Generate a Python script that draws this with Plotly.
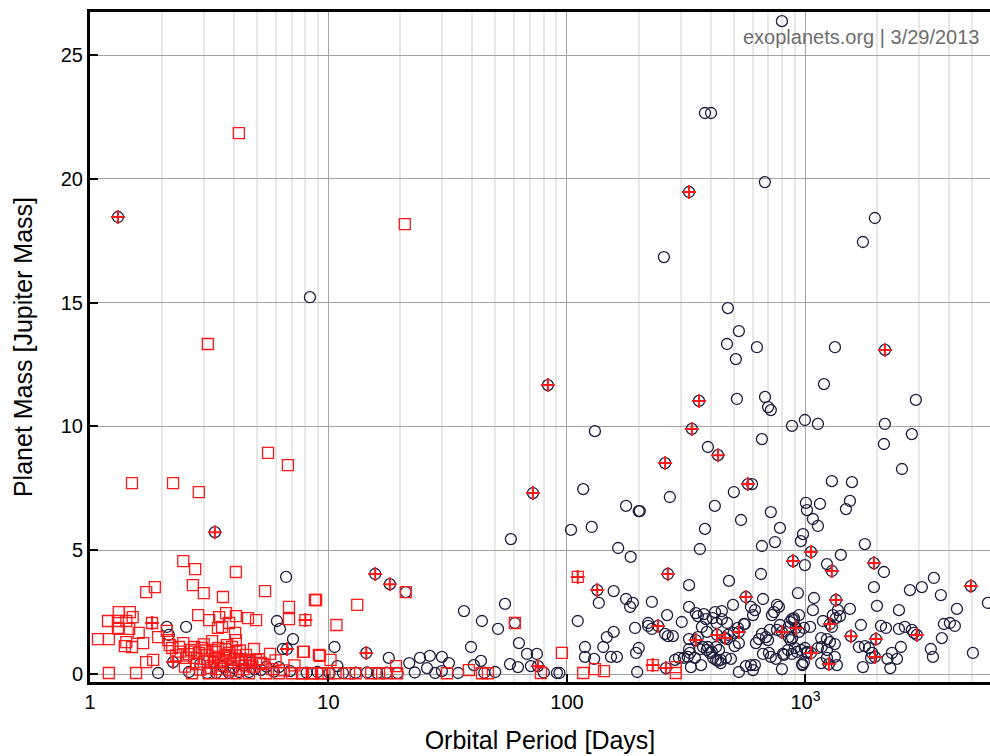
import numpy as np
import plotly.graph_objects as go

# radial-velocity planets (open black circles)
circ_period = [797, 379, 402, 676, 1955, 1742, 8.36, 255, 473, 526, 469, 626, 511, 1330,
               1196, 2905, 516, 677, 697, 716, 878, 995, 1128, 2153, 2794, 2134, 657, 390,
               2540, 597, 270, 1291, 1567, 202, 417, 501, 537, 716, 1005, 1151, 1015, 1537,
               1479, 1075, 1128, 379, 782, 977, 957, 745, 657, 1775, 361, 131, 117, 177, 200,
               104, 127, 164, 58.2,
               185, 136, 157, 177, 189, 184, 227, 325, 478, 651, 995, 930, 664, 325, 591, 603,
               614, 760, 774, 738, 724, 111, 193, 219, 263, 303, 347, 354, 375, 383, 418, 446,
               408, 424, 446, 469, 497, 552, 368, 386, 354, 325, 325, 328, 361, 372, 390, 398,
               344, 365, 331, 284, 295, 309, 321, 265, 278, 258, 219, 227, 200, 195, 157, 147,
               142, 153, 162, 119, 119, 130, 93, 197, 464, 487, 430, 441, 526, 563, 591, 614,
               603, 664, 703, 716, 752, 805, 813, 797, 845, 878, 903, 921, 850, 866, 940, 986,
               878, 895, 940, 970, 986, 1015, 620, 639, 657, 683, 697, 709, 760, 782, 861, 521,
               557, 473, 500, 505, 526, 422, 434, 405, 386, 410, 422, 441, 469,
               1231, 1408, 2134, 3456, 3078, 2742, 3698, 5826, 4318, 2467, 1995, 1938, 1086,
               1075, 1537, 1303, 1343, 1396, 1368, 1184, 1291, 895, 1046, 850, 880, 1709, 2074,
               2176, 1676, 1776, 1846, 1903, 1886, 2467, 2613, 2794, 2850, 2514, 2305, 2421,
               2210, 2270, 1742, 3808, 4036, 4234, 3733, 3357, 3425, 5040, 1128, 1355, 1328,
               1231, 1164, 1231, 1267, 1328, 1170, 1231, 957, 995, 1015, 970, 1164,
               10.6, 17.9, 10.9, 21.8, 24.2, 26.6, 29.9, 32.0, 25.9, 28.0, 29.9, 37.0, 44.0,
               51.4, 55.0, 60.5, 39.6, 62.9, 68.0, 74.8, 43.6, 40.7, 57.7, 62.3, 70.6, 90.8,
               21.1,
               6.64, 2.10, 2.53, 2.14, 1.93, 2.60, 3.10, 3.38, 3.83, 4.22, 4.64, 5.21, 6.20,
               6.08, 6.26, 7.10, 6.44,
               10.1, 11.5, 13.0, 14.5, 16.0, 17.5, 19.5, 23.0, 35.0, 45.0, 50.0, 80.0,
               3.6, 4.0, 4.4, 4.9, 5.5, 2.9, 3.3, 4.7, 5.9, 6.9, 8.1, 9.0]
circ_mass = [26.37, 22.66, 22.66, 19.87, 18.42, 17.45, 15.22, 16.84, 14.78, 13.85, 13.33, 13.2,
             12.72, 13.2, 11.71, 11.07, 11.11, 11.19, 10.78, 10.66, 10.02, 10.26, 10.1, 10.1,
             9.69, 9.29, 9.49, 9.17, 8.28, 7.67, 7.15, 7.79, 7.75, 6.58, 6.79, 7.35, 6.22,
             6.54, 6.91, 6.87, 6.62, 6.99, 6.66, 6.26, 5.98, 5.86, 5.9, 5.65, 5.37, 5.33,
             5.17, 5.25, 5.05, 9.81, 7.47, 6.79, 6.58, 5.82, 5.94, 5.09, 5.45,
             4.73, 2.87, 3.35, 3.03, 2.87, 2.71, 2.91, 3.59, 3.76, 4.04, 4.40, 3.27, 3.03,
             2.71, 2.71, 2.38, 2.58, 2.79, 2.71, 2.5, 2.38, 2.14, 1.86, 2.06, 2.38, 2.1, 2.46,
             2.34, 2.42, 2.22, 2.5, 2.54, 2.26, 2.06, 2.22, 2.06, 2.79, 2.02, 1.9, 1.7, 1.49,
             1.41, 1.0, 0.85, 1.0, 1.09, 1.09, 0.85, 0.65, 0.36, 0.28, 0.57, 0.65, 0.65, 0.69,
             1.53, 1.53, 1.62, 1.94, 1.82, 1.05, 0.85, 1.70, 1.49, 1.09, 0.69, 0.69, 1.09,
             0.69, 0.61, 0.04, 0.08, 0.65, 0.61, 0.53, 0.57, 0.08, 0.32, 0.36, 0.36, 0.16,
             0.81, 0.85, 0.69, 0.61, 0.81, 0.77, 0.2, 0.97, 0.81, 1.05, 0.89, 1.49, 1.37, 1.7,
             1.86, 2.22, 2.26, 2.38, 0.4, 0.48, 0.85, 1.25, 1.41, 1.62, 1.49, 1.37, 1.78,
             1.78, 1.98, 2.1, 1.86, 2.02, 1.58, 1.66, 1.13, 1.25, 1.09, 0.97, 0.89, 0.97,
             0.65, 0.57, 0.44, 1.41,
             4.44, 4.81, 4.12, 3.88, 3.51, 3.39, 3.19, 2.87, 2.63, 2.58, 2.75, 3.51, 3.07,
             2.58, 2.63, 2.38, 2.26, 2.34, 2.58, 2.14, 1.9, 2.18, 1.9, 1.9, 1.45, 1.98, 1.94,
             1.86, 1.09, 1.13, 1.05, 0.85, 0.65, 1.82, 1.9, 1.78, 1.66, 1.09, 0.85, 0.61,
             0.61, 0.24, 0.28, 2.02, 2.06, 1.94, 1.45, 1.01, 0.69, 0.85, 1.05, 0.36, 0.69,
             0.65, 1.45, 1.41, 1.29, 1.21, 1.09, 0.97, 0.97, 1.05, 0.89, 0.36, 0.44,
             1.09, 0.65, 0.32, 0.44, 0.65, 0.73, 0.69, 0.44, 0.24, 0.04, 0.12, 2.54, 2.14,
             1.82, 2.83, 2.06, 1.09, 1.25, 0.81, 0.81, 0.53, 0.36, 0.4, 0.28, 0.32, 0.04,
             3.31,
             3.92, 1.9, 1.9, 1.58, 0.04, 0.08, 0.04, 0.04, 0.04, 0.08, 0.08, 0.16, 0.28,
             2.14, 1.82, 1.41, 1.01,
             0.04, 0.04, 0.05, 0.06, 0.04, 0.05, 0.04, 0.06, 0.04, 0.05, 0.08, 0.06,
             0.3, 0.25, 0.35, 0.2, 0.3, 0.4, 0.5, 0.45, 0.1, 0.12, 0.05, 0.08]

# transiting planets (open red squares)
sq_period = [4.21, 20.9, 3.12, 1.50, 2.23, 2.86, 5.58, 6.76,
             2.46, 2.76, 4.09, 1.87, 1.72, 2.70, 3.0, 3.61, 5.42, 8.78, 6.83, 6.83,
             1.32, 1.47, 1.19, 1.31, 1.42, 1.51, 1.31, 1.32, 1.46, 1.60, 1.08, 1.20, 1.42,
             1.40, 1.50, 1.67, 1.93, 2.10, 2.13, 2.16, 1.72, 1.84, 1.20, 1.56,
             2.84, 3.16, 3.48, 3.72, 4.09, 3.83, 3.58, 3.44, 4.6, 4.97,
             4.06, 4.09, 3.94, 3.75, 3.25, 2.95, 2.73, 2.65, 2.46, 2.36, 2.21,
             5.69, 4.97, 4.51, 4.34, 4.01, 3.72, 3.48, 3.25, 3.38, 3.10, 2.86, 2.73, 2.53,
             7.82, 9.12, 4.87,
             2.68, 3.15, 3.58, 4.09, 4.64, 5.46, 6.20, 7.03, 7.74, 8.52, 9.38,
             8.87, 13.2, 10.8, 7.89, 9.21, 10.2, 19.2, 95.3, 77.8,
             7.82, 8.53, 9.31, 10.0, 10.7, 12.2, 13.0, 15.1, 16.3, 17.6, 19.4,
             31.4, 38.8, 44.0, 46.6, 60.5, 21.1, 131, 143, 117, 286, 286,
             3.3, 3.5, 3.9, 4.2, 4.5, 3.0, 2.8, 3.6, 4.8, 5.2, 3.2, 2.5, 4.4, 3.9, 3.4, 2.9,
             5.8, 6.5, 7.2, 4.1, 3.7, 3.0,
             3.1, 3.35, 3.55, 3.8, 4.05, 4.3, 4.7, 5.1, 2.6, 2.75, 3.05, 3.45, 3.85, 4.25,
             4.65, 5.3, 6.0, 2.4, 2.3]
sq_mass = [21.85, 18.17, 13.33, 7.71, 7.71, 7.35, 8.93, 8.44,
           4.56, 4.24, 4.12, 3.51, 3.31, 3.59, 3.27, 3.11, 3.35, 2.99, 2.71, 2.22,
           2.5, 2.5, 2.14, 2.14, 2.14, 2.3, 1.86, 1.82, 1.82, 1.66, 1.41, 1.41, 1.29,
           1.13, 1.09, 1.25, 1.49, 1.74, 1.37, 1.17, 0.48, 0.57, 0.04, 0.04,
           2.38, 2.18, 2.3, 2.46, 2.34, 2.06, 1.9, 1.86, 2.26, 2.18,
           1.66, 1.37, 1.09, 1.17, 1.33, 1.05, 1.09, 0.97, 1.25, 1.09, 1.05,
           0.81, 0.57, 0.77, 0.57, 0.57, 0.77, 0.65, 0.97, 0.89, 0.77, 0.85, 0.65, 0.65,
           0.89, 0.77, 1.01,
           0.03, 0.03, 0.03, 0.03, 0.03, 0.03, 0.03, 0.03, 0.03, 0.03, 0.03,
           2.99, 2.79, 1.98, 0.89, 0.73, 0.57, 0.32, 0.85, 0.04,
           0.03, 0.03, 0.03, 0.03, 0.03, 0.03, 0.03, 0.03, 0.03, 0.03, 0.03,
           0.03, 0.16, 0.03, 0.03, 2.06, 3.31, 0.2, 0.12, 0.04, 0.28, 0.04,
           0.45, 0.35, 0.3, 0.45, 0.35, 0.5, 0.4, 0.55, 0.3, 0.45, 0.25, 0.3, 0.2, 0.15,
           0.2, 0.18, 0.2, 0.15, 0.35, 0.9, 1.0, 1.2,
           0.6, 0.7, 0.5, 0.65, 0.75, 0.6, 0.5, 0.6, 0.8, 0.9, 0.95, 1.05, 0.85, 0.95,
           0.55, 0.4, 0.55, 0.9, 0.75]

# planets found by both methods: circle + red cross
circx_period = [1.31, 325, 83.2, 2155, 358, 334, 430, 258, 574, 72.0, 3.34, 15.7, 18.1, 14.4,
                75.6, 134, 265, 563, 887, 241, 526, 426, 460, 347, 260, 797, 912, 1055, 1938,
                1291, 1343, 1267, 1552, 1975, 1955, 2932, 4940, 1055, 1254, 2.23, 6.7]
circx_mass = [18.46, 19.47, 11.67, 13.09, 11.03, 9.9, 8.84, 8.52, 7.67, 7.31, 5.73, 4.04, 3.63,
              0.85, 0.32, 3.39, 4.04, 3.11, 4.56, 1.94, 1.7, 1.58, 1.45, 1.37, 0.24, 1.7, 1.86,
              4.93, 4.48, 4.16, 2.99, 2.02, 1.53, 1.41, 0.69, 1.58, 3.55, 0.85, 0.4, 0.48, 1.01]

# square + red cross
sqx_period = [111, 8.0, 1.82, 229]
sqx_mass = [3.92, 2.18, 2.06, 0.36]

navy = "#1c1c3c"
red = "rgb(255,25,25)"

fig = go.Figure()
fig.add_trace(go.Scatter(
    x=circ_period + circx_period, y=circ_mass + circx_mass, mode="markers",
    marker=dict(symbol="circle-open", size=11, color=navy, line=dict(width=1.3, color=navy)),
    hoverinfo="x+y"))
fig.add_trace(go.Scatter(
    x=sq_period + sqx_period, y=sq_mass + sqx_mass, mode="markers",
    marker=dict(symbol="square-open", size=11, color=red, line=dict(width=1.3, color=red)),
    hoverinfo="x+y"))
fig.add_trace(go.Scatter(
    x=circx_period + sqx_period, y=circx_mass + sqx_mass, mode="markers",
    marker=dict(symbol="cross-thin", size=10, color=red, line=dict(width=2, color=red)),
    hoverinfo="skip"))

minor_vals = [m * 10 ** d for d in range(4) for m in range(2, 10)]

fig.update_xaxes(
    type="log", range=[0, 3.774],
    tickvals=[1, 10, 100, 1000], ticktext=["1", "10", "100", "10<sup>3</sup>"],
    ticks="inside", ticklen=8, tickwidth=1.5, tickcolor="black",
    showline=True, linewidth=3, linecolor="black", mirror=True,
    showgrid=True, gridcolor="#a3a3a3", gridwidth=1,
    minor=dict(tickvals=minor_vals, showgrid=True, gridcolor="#e8e8e8", gridwidth=1.5, ticks=""),
    zeroline=False,
    tickfont=dict(size=20, color="black"),
    title=dict(text="Orbital Period [Days]", font=dict(size=25, color="black"), standoff=20))
fig.update_yaxes(
    range=[-0.323, 26.74],
    tickvals=[0, 5, 10, 15, 20, 25],
    ticks="inside", ticklen=8, tickwidth=1.5, tickcolor="black",
    showline=True, linewidth=3, linecolor="black",
    showgrid=True, gridcolor="#a3a3a3", gridwidth=1, zeroline=False,
    tickfont=dict(size=20, color="black"),
    title=dict(text="Planet Mass [Jupiter Mass]", font=dict(size=25, color="black"), standoff=22))

fig.add_annotation(text="exoplanets.org | 3/29/2013", xref="paper", yref="paper",
                   x=0.99, y=0.963, xanchor="right", yanchor="middle", showarrow=False,
                   font=dict(size=20, color="#6e6e6e"))

fig.update_layout(
    width=990, height=756,
    margin=dict(l=90, r=0, t=12, b=74),
    plot_bgcolor="white", paper_bgcolor="white",
    font=dict(family="Liberation Sans, Arial, sans-serif"),
    showlegend=False)

fig.write_html("out.html", config={"displayModeBar": False},
               post_script="document.body.style.margin='0';document.body.style.overflow='hidden';")
